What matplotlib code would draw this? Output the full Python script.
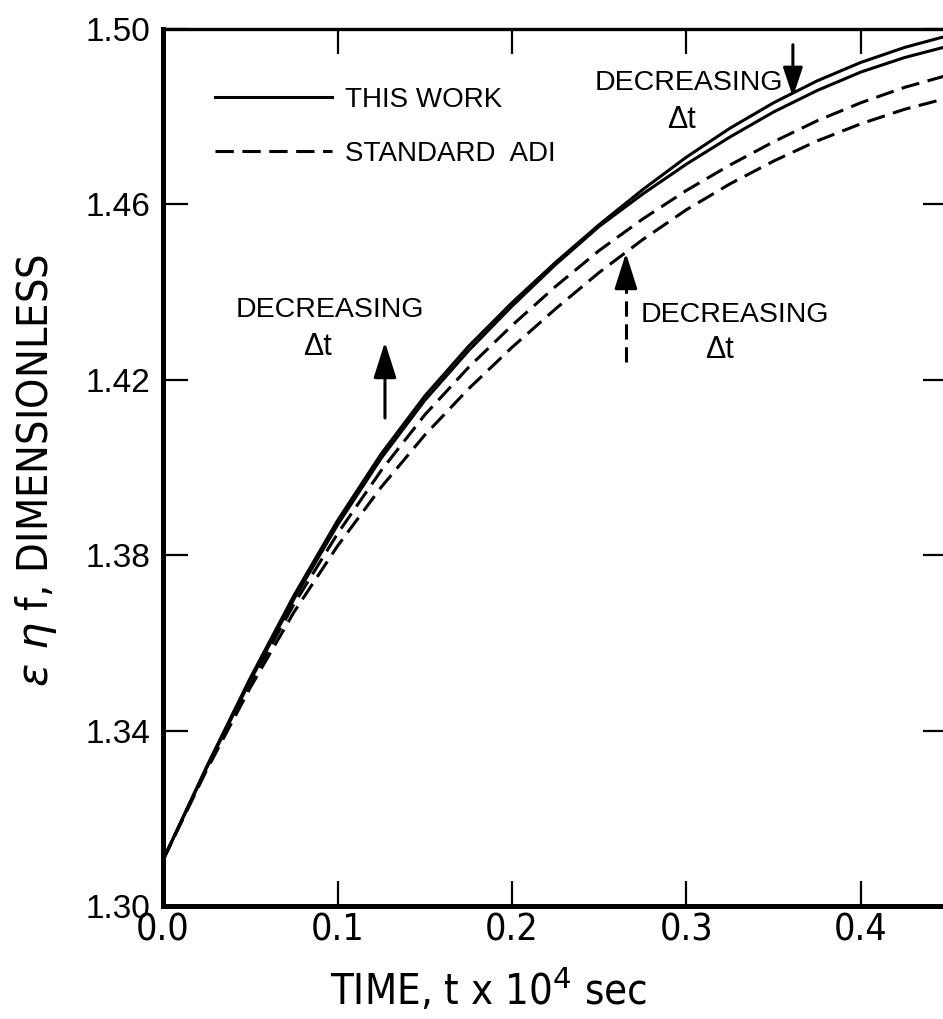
"""Time history of eps*eta*f: this work vs standard ADI, two time steps each."""
import matplotlib
matplotlib.use("Agg")
import matplotlib.pyplot as plt

# time, t x 10^4 sec
t = [0.0, 0.025, 0.05, 0.075, 0.1, 0.125, 0.15, 0.175, 0.2, 0.225,
     0.25, 0.275, 0.3, 0.325, 0.35, 0.375, 0.4, 0.425, 0.45]
# this work, smaller / larger dt
work_small_dt = [1.3105, 1.3318, 1.3520, 1.3708, 1.3879, 1.4031, 1.4163, 1.4276, 1.4376, 1.4468,
                 1.4554, 1.4634, 1.4708, 1.4774, 1.4832, 1.4882, 1.4924, 1.4958, 1.4985]
work_large_dt = [1.3105, 1.3315, 1.3514, 1.3700, 1.3869, 1.4021, 1.4153, 1.4266, 1.4368, 1.4463,
                 1.4550, 1.4624, 1.4692, 1.4754, 1.4811, 1.4860, 1.4902, 1.4935, 1.4961]
# standard ADI, smaller / larger dt
adi_small_dt = [1.3105, 1.3314, 1.3508, 1.3688, 1.3849, 1.3993, 1.4120, 1.4228, 1.4324, 1.4413,
                1.4495, 1.4567, 1.4632, 1.4690, 1.4743, 1.4791, 1.4832, 1.4867, 1.4895]
adi_large_dt = [1.3105, 1.3310, 1.3498, 1.3670, 1.3821, 1.3955, 1.4074, 1.4179, 1.4274, 1.4362,
                1.4445, 1.4520, 1.4588, 1.4647, 1.4699, 1.4745, 1.4784, 1.4817, 1.4843]

x_ticks = [0.0, 0.1, 0.2, 0.3, 0.4]
x_ticklabels = ["0.0", "0.1", "0.2", "0.3", "0.4"]
y_ticks = [1.30, 1.34, 1.38, 1.42, 1.46, 1.50]
y_ticklabels = ["1.30", "1.34", "1.38", "1.42", "1.46", "1.50"]

legend_labels = ["THIS WORK", "STANDARD  ADI"]

# annotations: arrows as (x, y_tail, y_tip); notes as [DECREASING centre, Δt centre]
arrow_left = (0.1272, 1.4113, 1.4286)
arrow_top = (0.361, 1.4964, 1.4845)
arrow_right = (0.2653, 1.4241, 1.4489)
note_left = [(0.0957, 1.4359), (0.0883, 1.4275)]
note_top = [(0.3014, 1.4877), (0.2974, 1.4792)]
note_right = [(0.3278, 1.4348), (0.3192, 1.4268)]

plt.rcParams["font.family"] = ["Liberation Sans", "DejaVu Sans"]
NARROW = dict(family="DejaVu Sans", fontstretch="condensed")

fig = plt.figure(figsize=(9.43, 10.19), dpi=100)
ax = fig.add_axes([0.1729, 0.1109, 0.8326, 0.8606])

lw = 2.2
dash = (0, (6, 2.8))
ax.plot(t, work_small_dt, color="black", lw=lw, label=legend_labels[0])
ax.plot(t, work_large_dt, color="black", lw=lw)
ax.plot(t, adi_small_dt, color="black", lw=lw, ls=dash, label=legend_labels[1])
ax.plot(t, adi_large_dt, color="black", lw=lw, ls=dash)

ax.set_xlim(0, 0.45)
ax.set_ylim(1.30, 1.50)
ax.set_xticks(x_ticks)
ax.set_xticklabels(x_ticklabels, fontsize=27, **NARROW)
ax.set_yticks(y_ticks)
ax.set_yticklabels(y_ticklabels, fontsize=24)
ax.tick_params(direction="in", length=18, width=1.6, top=True, right=True)
ax.tick_params(axis="x", pad=5)
ax.tick_params(axis="y", pad=9)
for side in ("left", "bottom"):
    ax.spines[side].set_linewidth(3.6)
for side in ("top", "right"):
    ax.spines[side].set_linewidth(2.4)

ax.set_xlabel("TIME, t x 10$^4$ sec", fontsize=30, **NARROW)
ax.xaxis.set_label_coords(0.415, -0.070)
ax.set_ylabel(r"$\epsilon\ \eta$ f, DIMENSIONLESS", fontsize=31, **NARROW)
ax.yaxis.set_label_coords(-0.132, 0.497)

ax.legend(loc="upper left", bbox_to_anchor=(0.066, 0.934), frameon=False,
          fontsize=20, handlelength=4.2, handletextpad=0.5, labelspacing=1.0,
          borderpad=0, borderaxespad=0)

# arrows
head = dict(arrowstyle="-|>,head_length=1.1,head_width=0.35", color="black",
            lw=2.2, shrinkA=0, shrinkB=0, mutation_scale=20)
x, y0, y1 = arrow_left
ax.annotate("", xy=(x, y1), xytext=(x, y0), arrowprops=head)
x, y0, y1 = arrow_top
ax.annotate("", xy=(x, y1), xytext=(x, y0),
            arrowprops=dict(head, arrowstyle="-|>,head_length=0.9,head_width=0.3"))
x, y0, y1 = arrow_right
ax.plot([x, x], [y0, y1 - 0.004], color="black", lw=2.2, ls=(0, (5, 2.5)))
ax.annotate("", xy=(x, y1), xytext=(x, y1 - 0.005), arrowprops=head)

for (xa, ya), (xb, yb) in (note_left, note_top, note_right):
    ax.text(xa, ya, "DECREASING", fontsize=20.5, ha="center", va="center")
    ax.text(xb, yb, "Δt", fontsize=22, ha="center", va="center")

fig.savefig("out.png", dpi=100)
